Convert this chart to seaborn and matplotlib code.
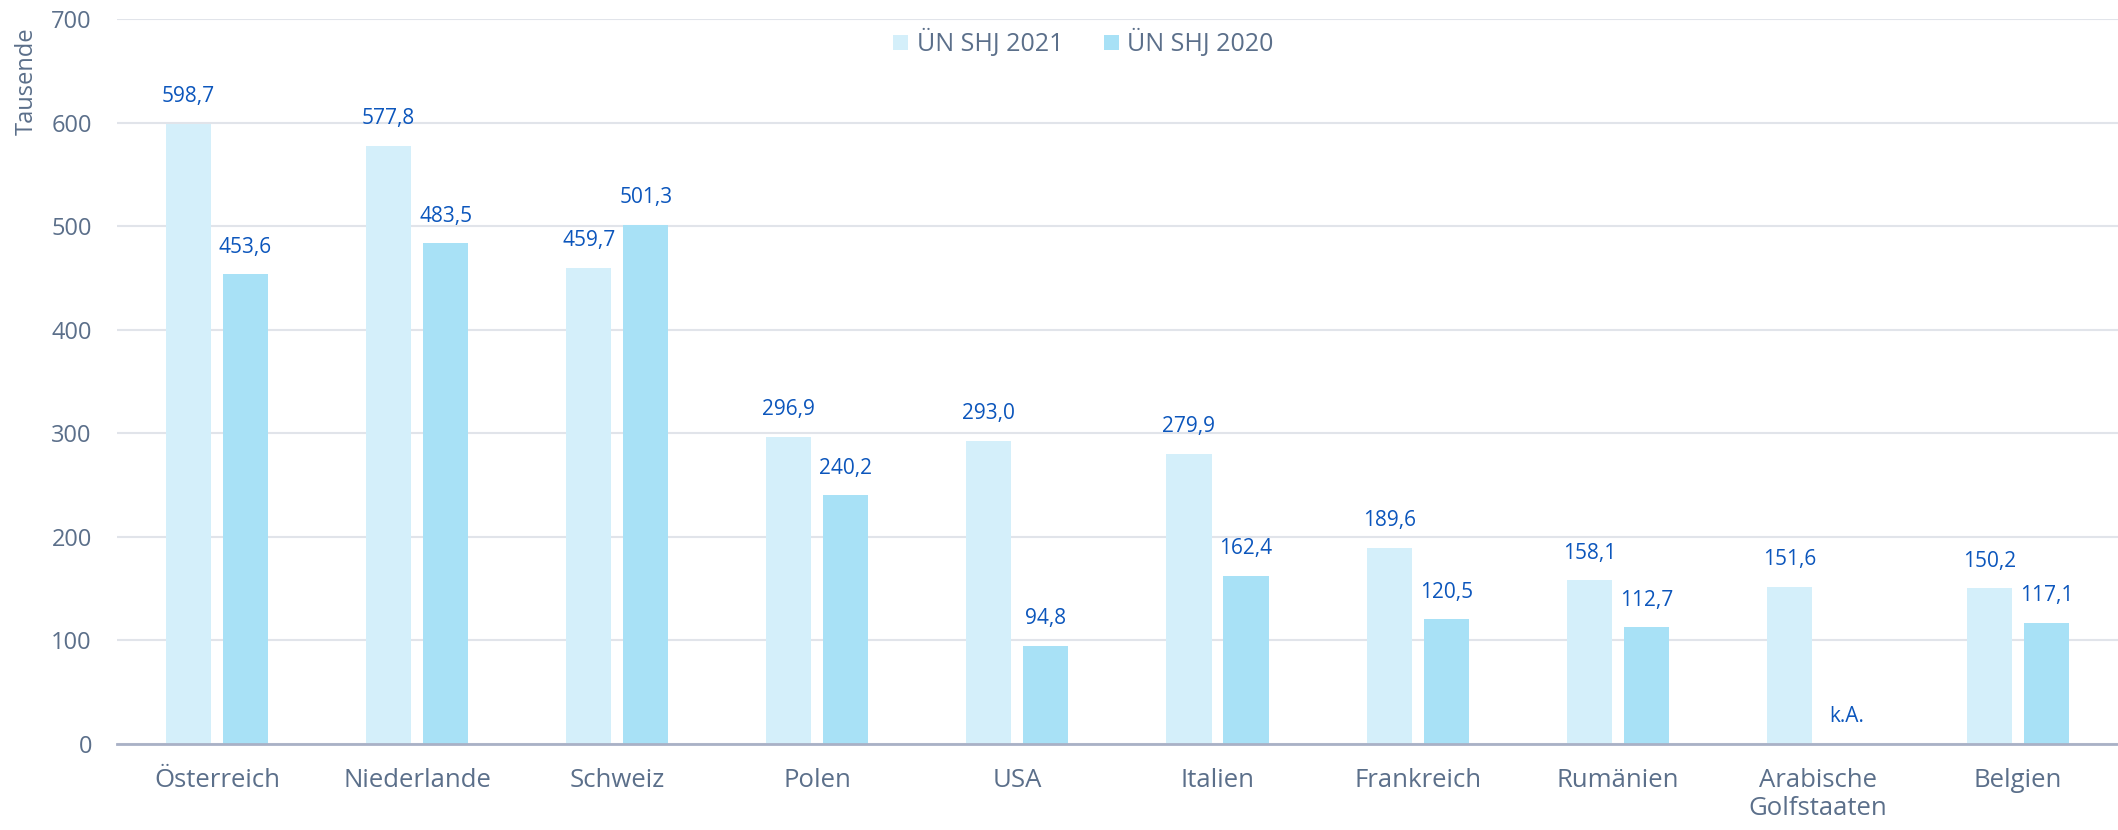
import numpy as np
import pandas as pd
import matplotlib
matplotlib.use("Agg")
import matplotlib.pyplot as plt
import seaborn as sns

# -------------------------------
# Data
# -------------------------------
countries = ['Österreich', 'Niederlande', 'Schweiz', 'Polen', 'USA', 'Italien',
             'Frankreich', 'Rumänien', 'Arabische\nGolfstaaten', 'Belgien']
shj_2021 = [598.7, 577.8, 459.7, 296.9, 293.0, 279.9, 189.6, 158.1, 151.6, 150.2]
shj_2020 = [453.6, 483.5, 501.3, 240.2, 94.8, 162.4, 120.5, 112.7, np.nan, 117.1]
series = ['ÜN SHJ 2021', 'ÜN SHJ 2020']

df = pd.DataFrame({
    'Land': countries * 2,
    'Wert': shj_2021 + shj_2020,
    'Serie': [series[0]] * len(countries) + [series[1]] * len(countries),
})

# -------------------------------
# Style
# -------------------------------
sns.set_theme(style='white')
plt.rcParams['font.family'] = ['Open Sans', 'DejaVu Sans']

tick_col = '#5B6F8A'
label_col = '#0C56BC'
palette = {series[0]: '#D4EFFA', series[1]: '#A8E1F6'}

fig = plt.figure(figsize=(21.18, 8.3), dpi=100)
ax = fig.add_axes([0.0552, 0.1036, 0.9448, 0.8735])

sns.barplot(data=df, x='Land', y='Wert', hue='Serie', palette=palette,
            order=countries, hue_order=series, width=0.57, gap=0.21,
            saturation=1, errorbar=None, linewidth=0, ax=ax, zorder=3)

ax.set_ylim(0, 700)
ax.set_xlim(-0.5, len(countries) - 0.5)
ax.set_yticks(range(0, 701, 100))
ax.yaxis.grid(True, color='#E1E4EA', linewidth=1.5, zorder=0)
ax.set_axisbelow(True)
for s in ['top', 'right', 'left']:
    ax.spines[s].set_visible(False)
ax.spines['bottom'].set_color('#A9B1C6')
ax.spines['bottom'].set_linewidth(2)
ax.spines['bottom'].set_zorder(4)
ax.tick_params(axis='both', length=0, colors=tick_col)
ax.tick_params(axis='y', labelsize=17, pad=18)
ax.tick_params(axis='x', labelsize=18.5, pad=17)
ax.set_xlabel('')
ax.set_ylabel('')

# -------------------------------
# Value labels (match bars to categories by x position)
# -------------------------------
for container, vals in zip(ax.containers, [shj_2021, shj_2020]):
    centers = {}
    offset = 0.0
    for patch in container.patches:
        xc = patch.get_x() + patch.get_width() / 2
        idx = int(round(xc))
        centers[idx] = xc
        offset = xc - idx
    for i, v in enumerate(vals):
        xc = centers.get(i, i + offset)
        if np.isnan(v):
            txt, yv = 'k.A.', 0
        else:
            txt, yv = f"{v:.1f}".replace('.', ','), v
        ax.annotate(txt, (xc, yv), xytext=(0, 12), textcoords='offset points',
                    ha='center', va='bottom', fontsize=15, color=label_col)

leg = ax.legend(loc='upper center', bbox_to_anchor=(0.483, 1.017), ncol=2, frameon=False,
                fontsize=18, handlelength=0.6, handleheight=0.6, columnspacing=1.6,
                handletextpad=0.35)
for t in leg.get_texts():
    t.set_color(tick_col)

fig.text(0.0125, 0.967, 'Tausende', rotation=90, ha='center', va='top',
         fontsize=17, color=tick_col)

fig.savefig('out.png', dpi=100)
